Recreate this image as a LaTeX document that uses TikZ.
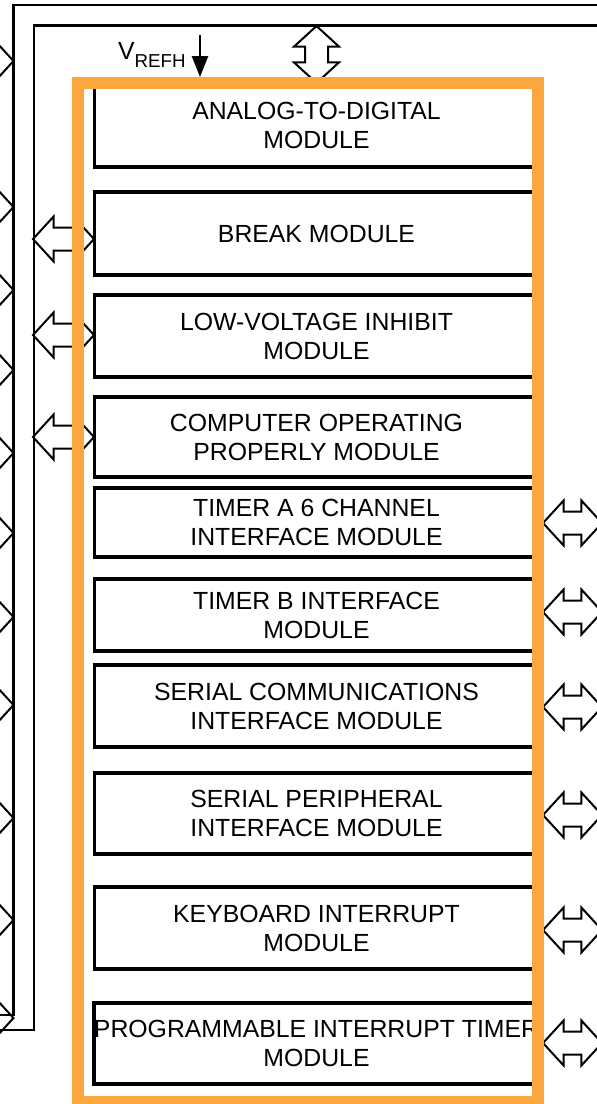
\documentclass[tikz,border=0pt]{standalone}
\usepackage{fontspec}
\setmainfont{Liberation Sans}
\usetikzlibrary{shapes.arrows,arrows.meta,positioning}
\definecolor{mcuorange}{RGB}{250,168,62}
\newcommand{\modfont}{\fontsize{24.8}{29}\selectfont}

\begin{document}
\begin{tikzpicture}[x=1pt, y=-1pt,
		% Styles
		module/.style={rectangle, draw, line width=3.6pt, minimum width=444pt, inner sep=0pt, align=center, font=\modfont},
		frame/.style={rectangle, draw=mcuorange, line width=12pt, minimum width=460pt, minimum height=1019pt, inner sep=0pt},
		port/.style={double arrow, draw, line width=2pt, inner xsep=0pt, inner ysep=10.5pt, minimum width=0pt, double arrow head extend=11pt, double arrow tip angle=95},
		bus/.style={line width=2.2pt},
		]

		\useasboundingbox (0,0) rectangle (597,1104);
		\clip (0,0) rectangle (597,1104);

		% Buses
		\draw[bus] (597,5.3) -| (13.5,1015) -- (0,1015);
		\draw[bus] (597,25.5) -| (33.7,1030) -- (0,1030);

		% Incoming pins (cut off at the left)
		\foreach \y in {61,207,290,370,453,533,617,705,818,920,1018}
			\node[port, minimum height=61pt] (pin\y) at (-17,\y) {};

		% Modules
		\node[module, minimum height=84pt] (adc) at (316.5,125) {ANALOG-TO-DIGITAL\\MODULE};
		\node[module, minimum height=83pt] (brk) at (316.5,233.5) {BREAK MODULE};
		\node[module, minimum height=82pt] (lvi) at (316.5,336) {LOW-VOLTAGE INHIBIT\\MODULE};
		\node[module, minimum height=80pt] (cop) at (316.5,437) {COMPUTER OPERATING\\PROPERLY MODULE};
		\node[module, minimum height=69pt] (tima) at (316.5,522.5) {TIMER A 6 CHANNEL\\INTERFACE MODULE};
		\node[module, minimum height=72pt] (timb) at (316.5,615) {TIMER B INTERFACE\\MODULE};
		\node[module, minimum height=82pt] (sci) at (316.5,706) {SERIAL COMMUNICATIONS\\INTERFACE MODULE};
		\node[module, minimum height=81pt] (spi) at (316.5,813.5) {SERIAL PERIPHERAL\\INTERFACE MODULE};
		\node[module, minimum height=82pt] (kbi) at (316.5,928) {KEYBOARD INTERRUPT\\MODULE};
		\node[module, minimum height=81pt] (pit) at (316.5,1043.5) {PROGRAMMABLE INTERRUPT TIMER\\MODULE};

		% Ports to the buses
		\node[port, rotate=90, minimum height=57pt] (adcport) at (316.5,54.5) {};
		\node[port, minimum height=61pt] (brkport) at (63.5,239) {};
		\node[port, minimum height=61pt] (lviport) at (63.5,335) {};
		\node[port, minimum height=61pt] (copport) at (63.5,437) {};

		% Ports to the pins
		\node[port, minimum height=59pt] (timaport) at (572.5,523) {};
		\node[port, minimum height=59pt] (timbport) at (572.5,612) {};
		\node[port, minimum height=59pt] (sciport) at (572.5,707) {};
		\node[port, minimum height=59pt] (spiport) at (572.5,815) {};
		\node[port, minimum height=59pt] (kbiport) at (572.5,930) {};
		\node[port, minimum height=59pt] (pitport) at (572.5,1043) {};

		% MCU outline
		\node[frame] (mcu) at (308,592.5) {};

		% Reference voltage
		\coordinate (vin) at (200,35);
		\node[anchor=base west, inner sep=0pt] (vrefh) at (118,59) {\modfont V\raisebox{-8pt}{\fontsize{18.7}{20}\selectfont REFH}};
		\draw[-{Triangle[width=16pt,length=21pt]}, line width=2.6pt] (vin) -- (vin |- mcu.north);

	\end{tikzpicture}
\end{document}
